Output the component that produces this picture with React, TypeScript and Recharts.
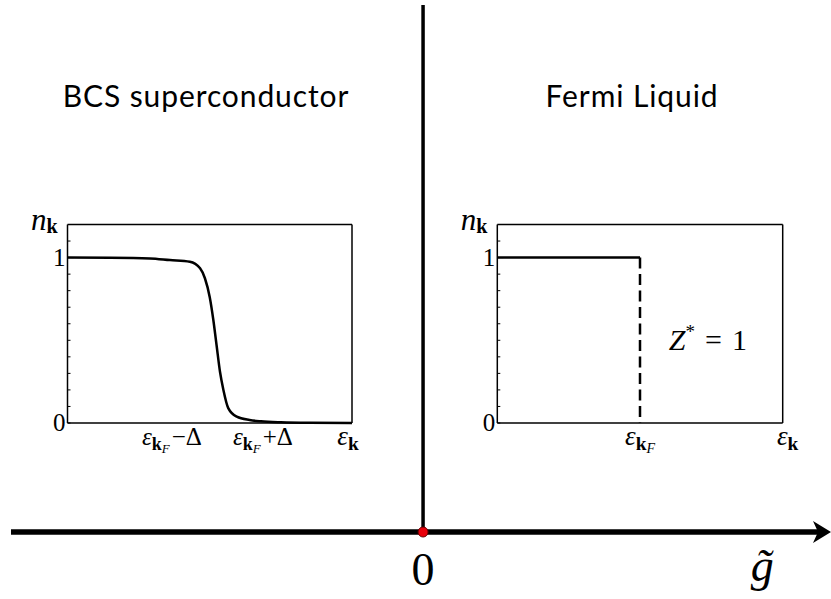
import React from "react";
import { LineChart, Line, XAxis, YAxis, ReferenceLine, ReferenceDot } from "recharts";

const SERIF = "'Liberation Serif', 'DejaVu Serif', serif";
const SANS = "Lato, 'Open Sans', sans-serif";

// coupling axis g~ : origin and the label at the arrow end
const gDomain = [-1, 0.99];
const gTicks = [0, 0.823];
const gTickLabels = ["0", "g\u0303"];
const origin = [{ g: 0, v: 0 }];

// BCS superconductor: smeared occupation
const bcsEps = [0, 0.15, 0.29, 0.36, 0.43, 0.466, 0.483, 0.5, 0.512, 0.524, 0.536, 0.548, 0.565, 0.595, 0.64, 0.68, 0.75, 0.85, 1];
const bcsN = [1, 0.999, 0.995, 0.985, 0.975, 0.935, 0.875, 0.76, 0.63, 0.47, 0.31, 0.2, 0.09, 0.038, 0.018, 0.01, 0.004, 0.001, 0];
const bcsTicks = [0.367, 0.687, 1];
const bcsTickLabels = ["ε_{k_F}−Δ", "ε_{k_F}+Δ", "ε_k"];

// Fermi liquid: sharp step at k_F
const flEps = [0, 0.5];
const flN = [1, 1];
const flJumpEps = [0.5, 0.5];
const flJumpN = [1, 0];
const flTicks = [0.5, 1];
const flTickLabels = ["ε_{k_F}", "ε_k"];
const zStar = 1;

const nTicks = [0, 0.1, 0.2, 0.3, 0.4, 0.5, 0.6, 0.7, 0.8, 0.9, 1, 1.1];
const nLabeled = [0, 1];

const bcsData = bcsEps.map((e, i) => ({ e, n: bcsN[i] }));
const flData = flEps.map((e, i) => ({ e, n: flN[i] }));
const flJump = flJumpEps.map((e, i) => ({ e, n: flJumpN[i] }));

function EpsLabel({ x, y, text, size }: { x: number; y: number; text: string; size: number }) {
  const m = text.match(/^ε_(\{k_F\}|k)(.*)$/);
  const hasF = !!m && m[1] !== "k";
  const rest = m ? m[2] : "";
  return (
    <text x={x} y={y} textAnchor="middle" fontFamily={SERIF} fill="#000">
      <tspan fontStyle="italic" fontSize={size}>ε</tspan>
      <tspan fontWeight="bold" fontSize={size * 0.72} dy={size * 0.18}>k</tspan>
      {hasF && <tspan fontStyle="italic" fontSize={size * 0.52} dy={size * 0.12}>F</tspan>}
      {rest && <tspan fontSize={size} dx={2} dy={-size * 0.3}>{rest}</tspan>}
    </text>
  );
}

const makeXTick = (ticks: number[], labels: string[], size: number, endSize: number, endShift: number) => (p: any) => {
  const i = ticks.indexOf(p.payload.value);
  if (i < 0) return <g />;
  const last = i === ticks.length - 1;
  return <EpsLabel x={p.x + (last ? endShift : 0)} y={p.y + 22} text={labels[i]} size={last ? endSize : size} />;
};

const makeYTick = (side: "left" | "right") => (p: any) => {
  const v = p.payload.value;
  const major = Math.abs(v - 1) < 1e-6;
  const dir = side === "left" ? 1 : -1;
  const labeled = side === "left" && nLabeled.some((t) => Math.abs(t - v) < 1e-6);
  return (
    <g>
      <line x1={p.x} x2={p.x + dir * (major ? 6 : 3)} y1={p.y} y2={p.y} stroke="#000" strokeWidth={1} />
      {labeled && (
        <text x={p.x - 2} y={p.y + 8} textAnchor="end" fontFamily={SERIF} fontSize={25} fill="#000">
          {v}
        </text>
      )}
    </g>
  );
};

const nLabel = (props: any) => {
  const vb = props.viewBox;
  return (
    <text x={vb.x + vb.width - 10} y={vb.y + 5} textAnchor="end" fontFamily={SERIF} fill="#000">
      <tspan fontStyle="italic" fontSize={31}>n</tspan>
      <tspan fontWeight="bold" fontSize={20} dy={3}>k</tspan>
    </text>
  );
};

const GTick = (p: any) => {
  const i = gTicks.indexOf(p.payload.value);
  if (i < 0) return <g />;
  const label = gTickLabels[i];
  const italic = label.includes("\u0303");
  return (
    <text x={p.x} y={p.y + (italic ? 49 : 53)} textAnchor="middle" fontFamily={SERIF} fontSize={46}
      fontStyle={italic ? "italic" : "normal"} fill="#000">
      {label}
    </text>
  );
};

const arrowShape = (p: any) => {
  const { x1, y1, x2, y2 } = p;
  return (
    <g>
      <line x1={x1} y1={y1} x2={x2 - 12} y2={y2} stroke="#000" strokeWidth={5.5} />
      <polygon points={`${x2},${y2} ${x2 - 18},${y2 - 11} ${x2 - 13},${y2} ${x2 - 18},${y2 + 11}`} fill="#000" />
    </g>
  );
};

const boxLine = { stroke: "#000", strokeWidth: 1.5 };

function Panel({ left, width, yAxisWidth, rightMargin, children, xTicks, xTick }: any) {
  return (
    <div style={{ position: "absolute", left, top: 200 }}>
      <LineChart width={width} height={260} margin={{ top: 23.5, right: rightMargin, bottom: 0, left: 0 }}>
        <XAxis dataKey="e" type="number" domain={[0, 1]} ticks={xTicks} tick={xTick} tickLine={false}
          tickSize={0} tickMargin={0} height={37} axisLine={boxLine} interval={0} />
        <XAxis xAxisId="top" orientation="top" type="number" domain={[0, 1]} tick={false} tickLine={false}
          height={1} axisLine={boxLine} />
        <YAxis type="number" domain={[0, 1.2]} ticks={nTicks} tick={makeYTick("left")} tickLine={false}
          tickSize={0} tickMargin={0} width={yAxisWidth} axisLine={boxLine} interval={0} label={nLabel} />
        <YAxis yAxisId="r" orientation="right" type="number" domain={[0, 1.2]} ticks={nTicks} tick={makeYTick("right")}
          tickLine={false} tickSize={0} tickMargin={0} width={1} axisLine={boxLine} interval={0} />
        {children}
      </LineChart>
    </div>
  );
}

const titleStyle: React.CSSProperties = {
  position: "absolute", top: 80, transform: "translateX(-50%)", fontFamily: SANS, fontSize: 30,
  lineHeight: "30px", letterSpacing: 0.9, whiteSpace: "nowrap", color: "#000",
};

export default function App() {
  return (
    <div style={{ position: "absolute", left: 0, top: 0, width: 831, height: 599, background: "#fff", overflow: "hidden" }}>
      <LineChart width={831} height={599} data={origin} margin={{ top: 5, right: 0, bottom: 0, left: 11 }}>
        <XAxis dataKey="g" type="number" domain={gDomain} ticks={gTicks} tick={GTick} tickLine={false}
          tickSize={0} tickMargin={0} height={67} axisLine={false} interval={0} />
        <YAxis hide type="number" domain={[0, 1]} />
        <ReferenceLine segment={[{ x: gDomain[0], y: 0 }, { x: gDomain[1], y: 0 }]} shape={arrowShape} ifOverflow="visible" />
        <ReferenceLine segment={[{ x: 0, y: 0 }, { x: 0, y: 1 }]} stroke="#000" strokeWidth={3.5} ifOverflow="visible" />
        <Line dataKey="v" stroke="none" isAnimationActive={false}
          dot={{ r: 5, fill: "#e8000b", stroke: "#600", strokeWidth: 1 }} />
      </LineChart>

      <div style={{ ...titleStyle, left: 206 }}>BCS superconductor</div>
      <div style={{ ...titleStyle, left: 632 }}>Fermi Liquid</div>

      <Panel left={0} width={380} yAxisWidth={67.5} rightMargin={27} xTicks={bcsTicks}
        xTick={makeXTick(bcsTicks, bcsTickLabels, 25, 27, -4)}>
        <Line data={bcsData} dataKey="n" type="monotone" stroke="#000" strokeWidth={2.5} dot={false} isAnimationActive={false} />
      </Panel>

      <Panel left={420} width={411} yAxisWidth={77.3} rightMargin={47.3} xTicks={flTicks}
        xTick={makeXTick(flTicks, flTickLabels, 27, 27, 5)}>
        <Line data={flData} dataKey="n" type="linear" stroke="#000" strokeWidth={2.5} dot={false} isAnimationActive={false} />
        <Line data={flJump} dataKey="n" type="linear" stroke="#000" strokeWidth={2.5} strokeDasharray="11 5.5" dot={false} isAnimationActive={false} />
        <ReferenceDot x={0.738} y={0.444} r={0} ifOverflow="visible"
          shape={(p: any) => (
            <text x={p.cx} y={p.cy} textAnchor="middle" fontFamily={SERIF} fontSize={30} fill="#000">
              <tspan fontStyle="italic">Z</tspan>
              <tspan fontSize={19} dy={-12}>*</tspan>
              <tspan dx={10} dy={12}>=</tspan>
              <tspan dx={10}>{zStar}</tspan>
            </text>
          )} />
      </Panel>
    </div>
  );
}
